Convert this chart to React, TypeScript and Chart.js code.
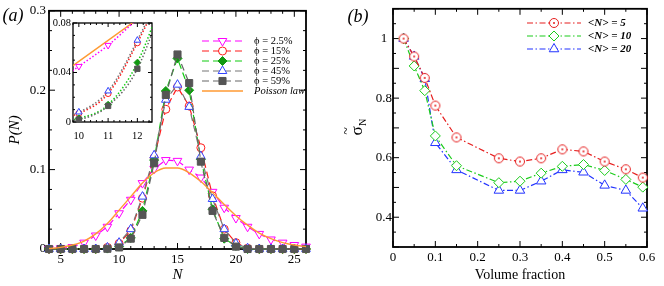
import React, { useEffect, useRef } from 'react';
import { Chart, registerables } from 'chart.js';

Chart.register(...registerables);

const SERIF = '"Liberation Serif", "Times New Roman", "DejaVu Serif", serif';
Chart.defaults.font.family = SERIF;
Chart.defaults.color = '#000';

// ---------- Panel (a) data ----------
const nValues = [4, 5, 6, 7, 8, 9, 10, 11, 12, 13, 14, 15, 16, 17, 18, 19, 20, 21, 22, 23, 24, 25, 26];
const phi025 = [0.0005, 0.001, 0.0025, 0.008, 0.017, 0.028, 0.045, 0.062, 0.083, 0.101, 0.112, 0.111, 0.1, 0.09, 0.072, 0.052, 0.039, 0.028, 0.019, 0.012, 0.008, 0.005, 0.003];
const phi15 = [0, 0, 0, 0, 0, 0.002, 0.007, 0.023, 0.064, 0.115, 0.176, 0.204, 0.18, 0.1275, 0.067, 0.025, 0.008, 0.001, 0, 0, 0, 0, 0];
const phi25 = [0, 0, 0, 0, 0, 0.0005, 0.003, 0.014, 0.048, 0.112, 0.199, 0.24, 0.2, 0.113, 0.05, 0.013, 0.004, 0, 0, 0, 0, 0, 0];
const phi45 = [0, 0, 0, 0, 0, 0.002, 0.008, 0.025, 0.066, 0.118, 0.188, 0.207, 0.179, 0.117, 0.063, 0.025, 0.007, 0.001, 0, 0, 0, 0, 0];
const phi59 = [0, 0, 0, 0, 0, 0.0003, 0.002, 0.013, 0.043, 0.108, 0.194, 0.245, 0.209, 0.11, 0.048, 0.014, 0.003, 0, 0, 0, 0, 0, 0];
const poisson = [0.0006, 0.002, 0.005, 0.01, 0.019, 0.032, 0.049, 0.066, 0.083, 0.096, 0.102, 0.102, 0.096, 0.085, 0.071, 0.056, 0.042, 0.03, 0.02, 0.013, 0.008, 0.005, 0.003];
const legendA = ['ϕ = 2.5%', 'ϕ = 15%', 'ϕ = 25%', 'ϕ = 45%', 'ϕ = 59%', 'Poisson law'];
const xTicksA = [5, 10, 15, 20, 25];
const yTicksA = [0, 0.1, 0.2, 0.3];
const xTicksInset = [10, 11, 12];
const yTicksInset = [0, 0.04, 0.08];

// ---------- Panel (b) data ----------
const volumeFraction = [0.025, 0.05, 0.075, 0.1, 0.15, 0.25, 0.3, 0.35, 0.4, 0.45, 0.5, 0.55, 0.59];
const sigmaN5 = [1.0, 0.94, 0.868, 0.775, 0.668, 0.598, 0.587, 0.598, 0.628, 0.621, 0.587, 0.561, 0.533];
const sigmaN10 = [1.0, 0.908, 0.825, 0.673, 0.573, 0.516, 0.521, 0.548, 0.571, 0.577, 0.557, 0.527, 0.501];
const sigmaN20 = [1.0, 0.94, 0.865, 0.65, 0.559, 0.49, 0.49, 0.521, 0.559, 0.551, 0.507, 0.49, 0.43];
const legendB = ['<N> = 5', '<N> = 10', '<N> = 20'];
const xTicksB = [0, 0.1, 0.2, 0.3, 0.4, 0.5, 0.6];
const yTicksB = [0.4, 0.6, 0.8, 1];

const fmt = (v: any) => String(Math.round(Number(v) * 1e4) / 1e4);

type Style = {
  line: string; stroke: string; fill: string; shape: string; rot: number; r: number;
};

const stylesA: Style[] = [
  { line: '#ff00ff', stroke: '#ff00ff', fill: '#ffffff', shape: 'triangle', rot: 180, r: 5 },
  { line: '#ff1a1a', stroke: '#ff1a1a', fill: '#ffffff', shape: 'circle', rot: 0, r: 4 },
  { line: '#11cc11', stroke: '#119911', fill: '#119911', shape: 'rectRot', rot: 0, r: 4.5 },
  { line: '#777777', stroke: '#3344ff', fill: '#ffffff', shape: 'triangle', rot: 0, r: 5 },
  { line: '#666666', stroke: '#555555', fill: '#555555', shape: 'rect', rot: 0, r: 5 },
];
const poissonColor = '#ff9a33';

const stylesB: Style[] = [
  { line: '#e61e1e', stroke: '#e61e1e', fill: '#ffffff', shape: 'circleDot', rot: 0, r: 4.5 },
  { line: '#1ccc1c', stroke: '#1ccc1c', fill: '#ffffff', shape: 'rectRot', rot: 0, r: 5 },
  { line: '#2233ff', stroke: '#2233ff', fill: '#ffffff', shape: 'triangle', rot: 0, r: 5.5 },
];

function makeCircleDot(color: string, r: number): HTMLCanvasElement {
  const c = document.createElement('canvas');
  const s = Math.ceil(r * 2 + 3);
  c.width = s; c.height = s;
  const ctx = c.getContext('2d')!;
  ctx.fillStyle = '#fff';
  ctx.strokeStyle = color;
  ctx.lineWidth = 1;
  ctx.beginPath(); ctx.arc(s / 2, s / 2, r, 0, Math.PI * 2); ctx.fill(); ctx.stroke();
  ctx.fillStyle = color;
  ctx.beginPath(); ctx.arc(s / 2, s / 2, 1, 0, Math.PI * 2); ctx.fill();
  return c;
}

function drawMarker(ctx: CanvasRenderingContext2D, st: Style, x: number, y: number, img?: HTMLCanvasElement) {
  const r = st.r;
  if (st.shape === 'circleDot' && img) {
    ctx.drawImage(img, x - img.width / 2, y - img.height / 2);
    return;
  }
  ctx.save();
  ctx.strokeStyle = st.stroke; ctx.fillStyle = st.fill; ctx.lineWidth = 1; ctx.setLineDash([]);
  ctx.beginPath();
  if (st.shape === 'circle') {
    ctx.arc(x, y, r, 0, Math.PI * 2);
  } else if (st.shape === 'triangle') {
    let rad = (st.rot * Math.PI) / 180;
    ctx.moveTo(x + Math.sin(rad) * r, y - Math.cos(rad) * r);
    rad += (2 * Math.PI) / 3;
    ctx.lineTo(x + Math.sin(rad) * r, y - Math.cos(rad) * r);
    rad += (2 * Math.PI) / 3;
    ctx.lineTo(x + Math.sin(rad) * r, y - Math.cos(rad) * r);
    ctx.closePath();
  } else if (st.shape === 'rectRot') {
    ctx.moveTo(x, y - r); ctx.lineTo(x + r, y); ctx.lineTo(x, y + r); ctx.lineTo(x - r, y); ctx.closePath();
  } else {
    const s = Math.SQRT1_2 * r;
    ctx.rect(x - s, y - s, 2 * s, 2 * s);
  }
  ctx.fill(); ctx.stroke();
  ctx.restore();
}

type TickSpec = { xMajor: number; xMinor: number; yMajor: number; yMinor: number; majorLen: number; minorLen: number; lw: number };

function framePlugin(spec: TickSpec) {
  return {
    id: 'frameTicks',
    beforeDatasetsDraw(chart: any) {
      const { ctx, chartArea: a } = chart;
      const xs = chart.scales.x, ys = chart.scales.y;
      const each = (min: number, max: number, step: number, fn: (v: number) => void) => {
        const i0 = Math.ceil(min / step - 1e-6), i1 = Math.floor(max / step + 1e-6);
        for (let i = i0; i <= i1; i++) fn(i * step);
      };
      const isMajor = (v: number, m: number) => Math.abs(v / m - Math.round(v / m)) < 1e-6;
      ctx.save();
      ctx.strokeStyle = '#000';
      ctx.lineWidth = 1;
      ctx.beginPath();
      each(xs.min, xs.max, spec.xMinor, (v) => {
        const len = isMajor(v, spec.xMajor) ? spec.majorLen : spec.minorLen;
        const p = xs.getPixelForValue(v);
        ctx.moveTo(p, a.bottom); ctx.lineTo(p, a.bottom - len);
        ctx.moveTo(p, a.top); ctx.lineTo(p, a.top + len);
      });
      each(ys.min, ys.max, spec.yMinor, (v) => {
        const len = isMajor(v, spec.yMajor) ? spec.majorLen : spec.minorLen;
        const p = ys.getPixelForValue(v);
        ctx.moveTo(a.left, p); ctx.lineTo(a.left + len, p);
        ctx.moveTo(a.right, p); ctx.lineTo(a.right - len, p);
      });
      ctx.stroke();
      ctx.lineWidth = spec.lw;
      ctx.strokeRect(a.left, a.top, a.right - a.left, a.bottom - a.top);
      ctx.restore();
    },
  };
}

type LegendOpts = { x1: number; x2: number; tx: number; ys: number[]; font: string; dash: number[] };

function legendPlugin(labels: string[], styles: (Style | null)[], lines: string[], opts: LegendOpts, fonts: string[], imgs: (HTMLCanvasElement | undefined)[]) {
  return {
    id: 'customLegend',
    afterDraw(chart: any) {
      const ctx: CanvasRenderingContext2D = chart.ctx;
      ctx.save();
      labels.forEach((label, i) => {
        const y = opts.ys[i];
        const st = styles[i];
        ctx.strokeStyle = lines[i];
        ctx.lineWidth = st ? 1.2 : 1.5;
        ctx.setLineDash(st ? opts.dash : []);
        ctx.beginPath(); ctx.moveTo(opts.x1, y); ctx.lineTo(opts.x2, y); ctx.stroke();
        ctx.setLineDash([]);
        if (st) drawMarker(ctx, st, (opts.x1 + opts.x2) / 2, y, imgs[i]);
        ctx.fillStyle = '#000';
        ctx.font = fonts[i];
        ctx.textAlign = 'left';
        ctx.textBaseline = 'middle';
        ctx.fillText(label, opts.tx, y);
      });
      ctx.restore();
    },
  };
}

function textPlugin(draw: (ctx: CanvasRenderingContext2D) => void) {
  return {
    id: 'extraText',
    afterDraw(chart: any) {
      const ctx: CanvasRenderingContext2D = chart.ctx;
      ctx.save();
      draw(ctx);
      ctx.restore();
    },
  };
}

const seriesA = [phi025, phi15, phi25, phi45, phi59];

function configA(): any {
  const datasets: any[] = seriesA.map((vals, k) => {
    const st = stylesA[k];
    return {
      label: legendA[k],
      data: nValues.map((n, i) => ({ x: n, y: vals[i] })),
      borderColor: st.line,
      borderWidth: 1.2,
      borderDash: [7, 4],
      pointStyle: st.shape,
      pointRotation: st.rot,
      pointRadius: st.r,
      pointBorderColor: st.stroke,
      pointBackgroundColor: st.fill,
      pointBorderWidth: 1,
      tension: 0,
      clip: false,
      order: 5 - k,
    };
  });
  datasets.push({
    label: legendA[5],
    data: nValues.map((n, i) => ({ x: n, y: poisson[i] })),
    borderColor: poissonColor,
    borderWidth: 1.4,
    pointRadius: 0,
    cubicInterpolationMode: 'monotone',
    clip: false,
    order: 0,
  });
  return {
    type: 'line',
    data: { datasets },
    options: {
      animation: false,
      responsive: false,
      devicePixelRatio: 1,
      events: [],
      layout: { padding: { left: 0, right: 26, top: 9, bottom: 0 } },
      plugins: { legend: { display: false }, tooltip: { enabled: false } },
      scales: {
        x: {
          type: 'linear', min: 4, max: 26,
          afterBuildTicks: (s: any) => { s.ticks = xTicksA.map((v) => ({ value: v })); },
          afterFit: (s: any) => { s.height = 37; },
          grid: { display: false, drawTicks: false },
          border: { display: false },
          ticks: { autoSkip: false, maxRotation: 0, padding: 3, font: { size: 13, family: SERIF }, color: '#000', callback: fmt },
          title: { display: true, text: 'N', font: { size: 15, style: 'italic', family: SERIF }, color: '#000', padding: { top: 0, bottom: 2 } },
        },
        y: {
          type: 'linear', min: 0, max: 0.3,
          afterBuildTicks: (s: any) => { s.ticks = yTicksA.map((v) => ({ value: v })); },
          afterFit: (s: any) => { s.width = 49; },
          grid: { display: false, drawTicks: false },
          border: { display: false },
          ticks: { autoSkip: false, padding: 3, font: { size: 13, family: SERIF }, color: '#000', callback: fmt },
          title: { display: true, text: 'P(N)', font: { size: 15, style: 'italic', family: SERIF }, color: '#000', padding: { top: 6, bottom: 0 } },
        },
      },
    },
    plugins: [
      framePlugin({ xMajor: 5, xMinor: 1, yMajor: 0.1, yMinor: 0.025, majorLen: 6, minorLen: 3, lw: 1.8 }),
      legendPlugin(
        legendA,
        [...stylesA, null],
        [...stylesA.map((s) => s.line), poissonColor],
        { x1: 202, x2: 243, tx: 254, ys: [41, 51, 61, 71, 81, 91], font: '', dash: [7, 4] },
        [0, 1, 2, 3, 4].map(() => `10.5px ${SERIF}`).concat([`italic 10.5px ${SERIF}`]),
        [],
      ),
      textPlugin((ctx) => {
        ctx.fillStyle = '#000';
        ctx.font = `italic 18px ${SERIF}`;
        ctx.textAlign = 'center';
        ctx.textBaseline = 'middle';
        ctx.fillText('(a)', 13, 16);
      }),
    ],
  };
}

function configInset(): any {
  const datasets: any[] = seriesA.map((vals, k) => {
    const st = stylesA[k];
    return {
      label: legendA[k],
      data: nValues.map((n, i) => ({ x: n, y: vals[i] })),
      borderColor: st.line,
      borderWidth: 1.5,
      borderDash: [1.5, 2],
      pointStyle: st.shape,
      pointRotation: st.rot,
      pointRadius: st.r * 0.75,
      pointBorderColor: st.stroke,
      pointBackgroundColor: st.fill,
      pointBorderWidth: 1,
      cubicInterpolationMode: 'monotone',
      clip: { left: 0, right: 0, top: 0, bottom: 5 },
      order: 5 - k,
    };
  });
  datasets.push({
    label: legendA[5],
    data: nValues.map((n, i) => ({ x: n, y: poisson[i] })),
    borderColor: poissonColor,
    borderWidth: 1.4,
    pointRadius: 0,
    tension: 0,
    order: 6,
  });
  return {
    type: 'line',
    data: { datasets },
    options: {
      animation: false,
      responsive: false,
      devicePixelRatio: 1,
      events: [],
      layout: { padding: { left: 0, right: 10, top: 11, bottom: 0 } },
      plugins: { legend: { display: false }, tooltip: { enabled: false } },
      scales: {
        x: {
          type: 'linear', min: 9.8, max: 12.5,
          afterBuildTicks: (s: any) => { s.ticks = xTicksInset.map((v) => ({ value: v })); },
          afterFit: (s: any) => { s.height = 26; },
          grid: { display: false, drawTicks: false },
          border: { display: false },
          ticks: { autoSkip: false, maxRotation: 0, padding: 8, font: { size: 10.5, family: SERIF }, color: '#000', callback: fmt },
        },
        y: {
          type: 'linear', min: 0, max: 0.08,
          afterBuildTicks: (s: any) => { s.ticks = yTicksInset.map((v) => ({ value: v })); },
          afterFit: (s: any) => { s.width = 29; },
          grid: { display: false, drawTicks: false },
          border: { display: false },
          ticks: { autoSkip: false, padding: 2, font: { size: 10.5, family: SERIF }, color: '#000', callback: fmt },
        },
      },
    },
    plugins: [framePlugin({ xMajor: 1, xMinor: 0.2, yMajor: 0.04, yMinor: 0.01, majorLen: 4, minorLen: 2, lw: 1.3 })],
  };
}

function configB(): any {
  const series = [sigmaN5, sigmaN10, sigmaN20];
  const imgs = stylesB.map((st) => (st.shape === 'circleDot' ? makeCircleDot(st.stroke, st.r) : undefined));
  const datasets = series.map((vals, k) => {
    const st = stylesB[k];
    return {
      label: legendB[k],
      data: volumeFraction.map((v, i) => ({ x: v, y: vals[i] })),
      borderColor: st.line,
      borderWidth: 1.2,
      borderDash: [6, 2.5, 1.5, 2.5],
      pointStyle: imgs[k] || st.shape,
      pointRadius: st.r,
      pointBorderColor: st.stroke,
      pointBackgroundColor: st.fill,
      pointBorderWidth: 1,
      tension: 0,
      clip: false,
      order: k,
    };
  });
  return {
    type: 'line',
    data: { datasets },
    options: {
      animation: false,
      responsive: false,
      devicePixelRatio: 1,
      events: [],
      layout: { padding: { left: 0, right: 17, top: 7, bottom: 0 } },
      plugins: { legend: { display: false }, tooltip: { enabled: false } },
      scales: {
        x: {
          type: 'linear', min: 0, max: 0.6,
          afterBuildTicks: (s: any) => { s.ticks = xTicksB.map((v) => ({ value: v })); },
          afterFit: (s: any) => { s.height = 39; },
          grid: { display: false, drawTicks: false },
          border: { display: false },
          ticks: { autoSkip: false, maxRotation: 0, padding: 3, font: { size: 13, family: SERIF }, color: '#000', callback: fmt },
          title: { display: true, text: 'Volume fraction', font: { size: 14, family: SERIF }, color: '#000', padding: { top: 0, bottom: 2 } },
        },
        y: {
          type: 'linear', min: 0.3, max: 1.1,
          afterBuildTicks: (s: any) => { s.ticks = yTicksB.map((v) => ({ value: v })); },
          afterFit: (s: any) => { s.width = 61; },
          grid: { display: false, drawTicks: false },
          border: { display: false },
          ticks: { autoSkip: false, crossAlign: 'center', padding: 1, font: { size: 13, family: SERIF }, color: '#000', callback: fmt },
        },
      },
    },
    plugins: [
      framePlugin({ xMajor: 0.1, xMinor: 0.05, yMajor: 0.1, yMinor: 0.05, majorLen: 6, minorLen: 3, lw: 1.8 }),
      legendPlugin(
        legendB,
        stylesB,
        stylesB.map((s) => s.line),
        { x1: 195, x2: 249, tx: 256, ys: [23, 36, 49], font: '', dash: [6, 2.5, 1.5, 2.5] },
        legendB.map(() => `italic bold 11px ${SERIF}`),
        imgs,
      ),
      textPlugin((ctx) => {
        ctx.fillStyle = '#000';
        ctx.font = `italic 18px ${SERIF}`;
        ctx.textAlign = 'center';
        ctx.textBaseline = 'middle';
        ctx.fillText('(b)', 26, 17);
        // y-axis title: sigma-tilde with subscript N
        ctx.translate(30, 131);
        ctx.rotate(-Math.PI / 2);
        ctx.textBaseline = 'alphabetic';
        ctx.font = `17px ${SERIF}`;
        ctx.fillText('σ', 0, 0);
        ctx.font = `14px ${SERIF}`;
        ctx.fillText('~', 0, -11);
        ctx.textAlign = 'left';
        ctx.font = `10px ${SERIF}`;
        ctx.fillText('N', 5, 4);
      }),
    ],
  };
}

export default function App() {
  const aRef = useRef<HTMLCanvasElement>(null);
  const bRef = useRef<HTMLCanvasElement>(null);
  const iRef = useRef<HTMLCanvasElement>(null);

  useEffect(() => {
    const charts = [
      new Chart(aRef.current!, configA()),
      new Chart(bRef.current!, configB()),
      new Chart(iRef.current!, configInset()),
    ];
    return () => charts.forEach((c) => c.destroy());
  }, []);

  return (
    <div style={{ position: 'fixed', left: 0, top: 0, width: 664, height: 286, background: '#fff', overflow: 'hidden' }}>
      <canvas ref={aRef} width={332} height={286} style={{ position: 'absolute', left: 0, top: 0, width: 332, height: 286 }} />
      <canvas ref={bRef} width={332} height={286} style={{ position: 'absolute', left: 332, top: 0, width: 332, height: 286 }} />
      <canvas ref={iRef} width={118} height={136} style={{ position: 'absolute', left: 44, top: 12, width: 118, height: 136 }} />
    </div>
  );
}
